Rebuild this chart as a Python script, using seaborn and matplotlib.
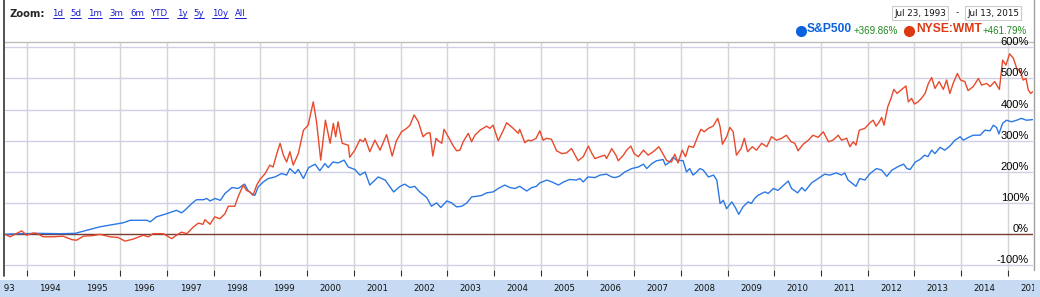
import numpy as np
import pandas as pd
import matplotlib
matplotlib.use("Agg")
import matplotlib.pyplot as plt
import seaborn as sns
from matplotlib.lines import Line2D
from matplotlib.patches import Rectangle
from matplotlib.transforms import blended_transform_factory, Bbox, TransformedBbox

# S&P500 % change since Jul 23 1993 (decimal year, percent)
spx_year = [1993.53, 1993.85, 1994.28, 1994.71, 1995.03, 1995.56, 1996.06, 1996.21, 1996.57, 1996.64,
            1996.77, 1996.99, 1997.20, 1997.31, 1997.38, 1997.53, 1997.63, 1997.78, 1997.85, 1997.92,
            1998.03, 1998.14, 1998.24, 1998.39, 1998.52, 1998.66, 1998.73, 1998.81, 1998.88, 1998.95,
            1999.06, 1999.17, 1999.31, 1999.45, 1999.56, 1999.63, 1999.74, 1999.81, 1999.92, 2000.03,
            2000.17, 2000.27, 2000.38, 2000.45, 2000.55, 2000.66, 2000.79, 2000.88, 2001.02, 2001.13,
            2001.24, 2001.34, 2001.52, 2001.67, 2001.85, 2001.99, 2002.09, 2002.20, 2002.30, 2002.41,
            2002.56, 2002.66, 2002.77, 2002.86, 2002.99, 2003.09, 2003.20, 2003.31, 2003.42, 2003.52,
            2003.63, 2003.74, 2003.84, 2003.98, 2004.09, 2004.23, 2004.34, 2004.45, 2004.55, 2004.70,
            2004.81, 2004.91, 2004.98, 2005.13, 2005.24, 2005.38, 2005.49, 2005.62, 2005.76, 2005.84,
            2005.91, 2006.01, 2006.16, 2006.27, 2006.41, 2006.52, 2006.59, 2006.68, 2006.80, 2006.95,
            2007.09, 2007.20, 2007.27, 2007.38, 2007.48, 2007.62, 2007.67, 2007.76, 2007.83, 2007.91,
            2008.05, 2008.12, 2008.19, 2008.26, 2008.34, 2008.41, 2008.48, 2008.59, 2008.70, 2008.77,
            2008.84, 2008.91, 2008.98, 2009.09, 2009.16, 2009.24, 2009.33, 2009.44, 2009.51, 2009.58,
            2009.65, 2009.73, 2009.80, 2009.87, 2009.98, 2010.08, 2010.16, 2010.30, 2010.37, 2010.50,
            2010.59, 2010.66, 2010.80, 2010.91, 2011.01, 2011.08, 2011.19, 2011.33, 2011.44, 2011.51,
            2011.58, 2011.69, 2011.75, 2011.83, 2011.94, 2012.05, 2012.19, 2012.30, 2012.41, 2012.52,
            2012.66, 2012.77, 2012.84, 2012.91, 2013.02, 2013.12, 2013.22, 2013.29, 2013.37, 2013.44,
            2013.55, 2013.65, 2013.76, 2013.87, 2013.98, 2014.05, 2014.16, 2014.26, 2014.41, 2014.51,
            2014.62, 2014.69, 2014.76, 2014.81, 2014.89, 2014.97, 2015.08, 2015.19, 2015.29, 2015.40,
            2015.53]
spx_pct = [0, 2, 3, 2, 3, 24, 37, 45, 45, 40,
           56, 66, 77, 69, 77, 99, 111, 111, 115, 107,
           115, 109, 131, 150, 147, 161, 141, 131, 125, 152,
           168, 179, 184, 195, 190, 211, 195, 208, 179, 214,
           225, 204, 227, 214, 232, 229, 238, 216, 208, 190,
           200, 158, 184, 174, 136, 154, 161, 150, 154, 136,
           118, 90, 101, 86, 107, 101, 88, 90, 101, 120,
           122, 125, 133, 136, 147, 158, 150, 147, 154, 139,
           150, 154, 165, 174, 168, 158, 168, 176, 174, 179,
           168, 184, 182, 190, 193, 184, 182, 186, 200, 211,
           216, 225, 211, 227, 236, 240, 222, 232, 247, 238,
           236, 200, 211, 190, 200, 211, 206, 184, 190, 174,
           99, 109, 82, 104, 88, 64, 88, 104, 99, 115,
           125, 131, 136, 131, 147, 141, 152, 171, 147, 133,
           150, 139, 165, 176, 186, 193, 190, 197, 190, 197,
           174, 161, 154, 179, 174, 195, 211, 206, 186, 206,
           218, 225, 211, 208, 232, 240, 254, 249, 270, 259,
           279, 270, 283, 302, 313, 302, 311, 318, 318, 334,
           332, 350, 343, 322, 356, 366, 361, 366, 372, 366,
           368]

# NYSE:WMT % change since Jul 23 1993
wmt_year = [1993.53, 1993.64, 1993.74, 1993.89, 1993.99, 1994.13, 1994.21, 1994.35, 1994.56, 1994.77,
            1994.96, 1995.06, 1995.21, 1995.42, 1995.56, 1995.78, 1995.95, 1996.10, 1996.28, 1996.49,
            1996.60, 1996.70, 1996.92, 1997.10, 1997.20, 1997.31, 1997.42, 1997.56, 1997.67, 1997.77,
            1997.81, 1997.92, 1998.02, 1998.13, 1998.24, 1998.31, 1998.45, 1998.52, 1998.63, 1998.70,
            1998.77, 1998.84, 1998.92, 1998.99, 1999.10, 1999.20, 1999.27, 1999.35, 1999.42, 1999.49,
            1999.56, 1999.63, 1999.70, 1999.81, 1999.92, 2000.02, 2000.13, 2000.20, 2000.29, 2000.39,
            2000.49, 2000.56, 2000.61, 2000.66, 2000.75, 2000.88, 2000.91, 2001.02, 2001.13, 2001.20,
            2001.24, 2001.34, 2001.45, 2001.56, 2001.70, 2001.82, 2001.91, 2002.02, 2002.13, 2002.20,
            2002.29, 2002.38, 2002.48, 2002.56, 2002.63, 2002.69, 2002.76, 2002.81, 2002.88, 2002.93,
            2003.06, 2003.13, 2003.20, 2003.27, 2003.34, 2003.45, 2003.52, 2003.59, 2003.70, 2003.84,
            2003.91, 2003.98, 2004.09, 2004.20, 2004.27, 2004.41, 2004.52, 2004.55, 2004.66, 2004.73,
            2004.80, 2004.90, 2004.98, 2005.05, 2005.13, 2005.23, 2005.34, 2005.45, 2005.55, 2005.66,
            2005.71, 2005.80, 2005.91, 2006.02, 2006.09, 2006.16, 2006.27, 2006.37, 2006.41, 2006.52,
            2006.61, 2006.66, 2006.77, 2006.84, 2006.93, 2007.00, 2007.09, 2007.20, 2007.30, 2007.41,
            2007.53, 2007.59, 2007.70, 2007.80, 2007.87, 2007.94, 2008.03, 2008.10, 2008.17, 2008.27,
            2008.36, 2008.43, 2008.50, 2008.59, 2008.69, 2008.79, 2008.84, 2008.89, 2008.98, 2009.05,
            2009.12, 2009.19, 2009.29, 2009.36, 2009.43, 2009.53, 2009.62, 2009.73, 2009.84, 2009.94,
            2010.05, 2010.16, 2010.26, 2010.36, 2010.44, 2010.51, 2010.62, 2010.73, 2010.83, 2010.94,
            2011.05, 2011.16, 2011.26, 2011.37, 2011.44, 2011.55, 2011.62, 2011.69, 2011.75, 2011.82,
            2011.94, 2012.05, 2012.12, 2012.18, 2012.25, 2012.30, 2012.35, 2012.43, 2012.50, 2012.56,
            2012.63, 2012.73, 2012.82, 2012.87, 2012.94, 2013.00, 2013.08, 2013.15, 2013.23, 2013.30,
            2013.37, 2013.44, 2013.53, 2013.62, 2013.69, 2013.76, 2013.83, 2013.92, 2013.99, 2014.08,
            2014.15, 2014.26, 2014.37, 2014.44, 2014.55, 2014.62, 2014.72, 2014.82, 2014.89, 2014.96,
            2015.04, 2015.12, 2015.19, 2015.26, 2015.33, 2015.39, 2015.44, 2015.49, 2015.53]
wmt_pct = [0, -8, 0, 11, -3, 4, 3, -8, -8, -6,
           -17, -19, -6, -4, 0, -8, -10, -22, -15, -3,
           -8, 2, 2, -14, -3, 7, 2, 23, 36, 32,
           47, 32, 56, 50, 66, 90, 90, 120, 158, 141,
           136, 125, 158, 176, 195, 222, 216, 259, 292, 254,
           232, 265, 222, 259, 334, 350, 425, 361, 238, 366,
           292, 356, 313, 361, 292, 286, 247, 270, 304, 297,
           308, 265, 302, 270, 320, 251, 300, 329, 340, 350,
           383, 361, 313, 324, 326, 251, 308, 300, 292, 337,
           302, 283, 268, 270, 297, 324, 297, 318, 334, 347,
           340, 350, 300, 334, 358, 340, 324, 337, 294, 302,
           300, 308, 332, 302, 308, 305, 268, 259, 261, 275,
           261, 236, 249, 283, 261, 243, 249, 254, 243, 275,
           254, 236, 254, 270, 283, 259, 249, 270, 254, 265,
           281, 265, 236, 232, 257, 229, 270, 249, 283, 279,
           313, 337, 329, 340, 347, 372, 345, 289, 313, 343,
           329, 254, 275, 308, 265, 281, 270, 292, 281, 313,
           302, 308, 318, 297, 292, 268, 289, 302, 318, 311,
           329, 297, 302, 318, 302, 308, 281, 297, 286, 334,
           340, 358, 366, 347, 361, 375, 350, 409, 436, 465,
           452, 465, 476, 425, 436, 418, 425, 436, 452, 484,
           503, 468, 490, 465, 495, 452, 484, 516, 495, 490,
           461, 474, 500, 479, 484, 474, 490, 465, 559, 543,
           579, 565, 533, 525, 495, 500, 463, 452, 457]

series_names = ["S&P500", "NYSE:WMT"]
series_change = ["+369.86%", "+461.79%"]
series_colors = ["#2b78e4", "#e8492b"]
dot_colors = ["#0b62de", "#dc3912"]
y_ticks = [-100, 0, 100, 200, 300, 400, 500, 600]
years = list(range(1993, 2016))
zoom_links = ["1d", "5d", "1m", "3m", "6m", "YTD", "1y", "5y", "10y", "All"]
date_from = "Jul 23, 1993"
date_to = "Jul 13, 2015"

df = pd.concat([
    pd.DataFrame({"year": spx_year, "pct": spx_pct, "series": series_names[0]}),
    pd.DataFrame({"year": wmt_year, "pct": wmt_pct, "series": series_names[1]}),
])

sns.set_style("white")
plt.rcParams["font.family"] = ["DejaVu Sans"]

W, H = 1040, 297
fig = plt.figure(figsize=(W / 100, H / 100), dpi=100)
fig.patch.set_facecolor("white")

def fx(px):
    return px / W

def fy(py):
    return 1 - py / H

ax = fig.add_axes([fx(5), fy(270), fx(1033) - fx(5), fy(42) - fy(270)])
ax.set_facecolor("white")

# grid
for v in y_ticks:
    if v != 0:
        ax.axhline(v, color="#cfd0e8", lw=1.0, zorder=1)
for yr in years[1:]:
    ax.axvline(yr, color="#d2d6d2", lw=1.0, zorder=1)
ax.axhline(0, color="#7a3b33", lw=1.0, zorder=2)

sns.lineplot(data=df, x="year", y="pct", hue="series", palette=series_colors,
             hue_order=series_names, legend=False, lw=1.0, estimator=None, ax=ax, zorder=3)

ax.set_xlim(1993.53, 2015.54)
ax.set_ylim(-114.5, 617)
ax.set_xlabel("")
ax.set_ylabel("")
for s in ["left", "right", "bottom"]:
    ax.spines[s].set_visible(False)
ax.spines["top"].set_color("#bdbdbd")
ax.spines["top"].set_linewidth(1.0)
ax.set_yticks([])
ax.set_xticks(years[1:])
ax.tick_params(axis="x", direction="out", length=4, width=0.8, color="#333333",
               labelbottom=False, bottom=True)

# y labels inside the plot on the right
for v in y_ticks:
    ax.text(1 - 4 / 1028, v, f"{v}%", transform=blended_transform_factory(ax.transAxes, ax.transData),
            ha="right", va="bottom", fontsize=8, family="Liberation Sans", color="#000000", zorder=4)

# bottom year band
fig.add_artist(Rectangle((0, 0), 1, 17 / H, transform=fig.transFigure,
                         facecolor="#c6dbf3", edgecolor="none", zorder=0))
clip = TransformedBbox(Bbox([[fx(4), 0], [fx(1034), 1]]), fig.transFigure)
btrans = blended_transform_factory(ax.transData, fig.transFigure)
for yr in years:
    t = ax.text(yr + 0.5, fy(288.5), str(yr), transform=btrans, ha="center", va="center",
                fontsize=6.2, color="#111111", clip_on=True)
    t.set_clip_box(clip)

# left / right widget borders
fig.add_artist(Line2D([fx(4), fx(4)], [fy(276), 1], color="#333333", lw=1.2))
fig.add_artist(Line2D([fx(1034), fx(1034)], [fy(270), 1], color="#a0a0a0", lw=1.0))

# zoom header
fig.text(fx(10), fy(14), "Zoom:", fontsize=7.2, fontweight="bold", va="center", ha="left")
link_x = [58, 75.5, 95, 116, 137, 159.5, 182, 199, 220, 240.5]
link_texts = []
for lx, lab in zip(link_x, zoom_links):
    link_texts.append(fig.text(fx(lx), fy(14), lab, fontsize=6.2, color="#1a1ad0",
                               va="center", ha="center"))

# date boxes
for cx, lab in [(920, date_from), (993, date_to)]:
    fig.text(fx(cx), fy(13), lab, fontsize=6.3, ha="center", va="center", color="#111111",
             bbox=dict(boxstyle="square,pad=0.25", fc="white", ec="#cccccc", lw=0.8))
fig.text(fx(957), fy(13), "-", fontsize=6.5, ha="center", va="center")

# legend
leg_dot = [801, 909]
leg_name = [807, 916]
leg_chg = [854, 983]
for i in range(2):
    fig.add_artist(Line2D([fx(leg_dot[i])], [fy(30.5)], marker="o", markersize=7,
                          color=dot_colors[i], lw=0))
    fig.text(fx(leg_name[i]), fy(29), series_names[i], fontsize=8.7, fontweight="bold",
             family="Liberation Sans", color=dot_colors[i], va="center", ha="left")
    fig.text(fx(leg_chg[i]), fy(31), series_change[i], fontsize=7, family="Liberation Sans",
             color="#1f8a1f", va="center", ha="left")

# underline zoom links
fig.canvas.draw()
inv = fig.transFigure.inverted()
for t in link_texts:
    bb = t.get_window_extent()
    (x0, y0), (x1, _) = inv.transform([(bb.x0, bb.y0 + 1), (bb.x1, bb.y0 + 1)])
    fig.add_artist(Line2D([x0, x1], [y0, y0], color="#1a1ad0", lw=0.7))

fig.savefig("out.png", dpi=100)
